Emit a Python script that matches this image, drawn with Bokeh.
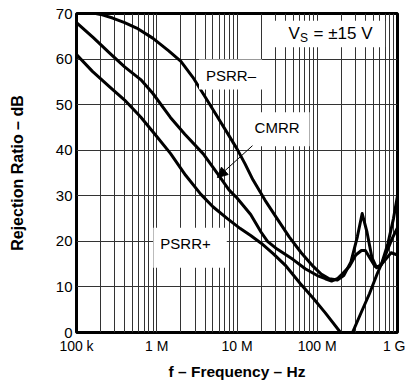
from bokeh.plotting import figure
from bokeh.models import FixedTicker, Label, Arrow, NormalHead, Range1d
from bokeh.embed import file_html
from bokeh.resources import INLINE

# ---------------- data ----------------
psrr_minus_f = [1.0e5, 1.41e5, 2.0e5, 2.82e5, 3.98e5, 5.62e5, 8.91e5, 1.41e6, 2.0e6, 2.82e6,
                3.98e6, 5.62e6, 7.94e6, 1.0e7, 1.26e7, 1.58e7, 2.24e7, 3.16e7, 4.47e7, 6.31e7,
                8.91e7, 1.12e8, 1.41e8, 1.78e8, 2.14e8, 2.63e8, 3.16e8, 3.63e8, 4.17e8, 4.79e8,
                5.5e8, 6.31e8, 7.59e8, 8.91e8, 1.0e9]
psrr_minus_db = [71.0, 70.3, 69.8, 69.0, 68.0, 66.8, 64.6, 61.8, 59.5, 56.0,
                 51.8, 47.5, 43.2, 40.3, 37.0, 33.5, 29.0, 25.0, 21.0, 17.5,
                 14.5, 12.8, 11.8, 11.5, 12.5, 15.5, 21.0, 26.1, 22.0, 16.5,
                 14.2, 15.0, 19.5, 25.0, 30.0]

cmrr_f = [1.0e5, 1.62e5, 2.63e5, 3.98e5, 6.31e5, 8.91e5, 1.48e6, 2.24e6, 3.8e6, 5.75e6,
          7.94e6, 1.0e7, 1.48e7, 2.0e7, 2.4e7, 3.16e7, 5.01e7, 7.08e7, 1.0e8, 1.26e8,
          1.51e8, 1.78e8, 2.09e8, 2.51e8, 3.02e8, 3.55e8, 3.98e8, 4.47e8, 5.25e8, 6.03e8,
          7.08e8, 8.32e8, 1.0e9]
cmrr_db = [68.0, 64.7, 61.2, 58.3, 55.5, 52.5, 47.2, 43.5, 39.2, 34.8,
           31.3, 29.5, 25.9, 22.0, 20.0, 18.3, 16.0, 14.0, 12.5, 11.8,
           11.3, 11.8, 13.0, 14.5, 17.0, 18.0, 18.0, 16.5, 14.5, 14.5,
           16.0, 17.5, 17.0]

psrr_plus_f = [1.0e5, 1.58e5, 2.63e5, 3.98e5, 6.31e5, 1.0e6, 1.48e6, 2.29e6, 3.55e6, 5.01e6,
               7.59e6, 1.1e7, 1.48e7, 2.0e7, 2.82e7, 3.98e7, 6.17e7, 8.91e7, 1.26e8, 1.95e8,
               2.34e8, 2.75e8, 3.55e8, 4.47e8, 5.62e8, 7.08e8, 8.51e8, 1.0e9]
psrr_plus_db = [61.0, 57.3, 53.8, 51.0, 47.3, 43.0, 39.3, 34.5, 30.3, 27.6,
                25.0, 22.8, 21.3, 19.6, 17.3, 14.8, 10.7, 7.5, 4.3, 0.0,
                -3.0, 0.0, 4.5, 8.5, 13.0, 17.0, 20.5, 23.0]

x_ticks = [k * 10 ** e for e in range(5, 9) for k in range(1, 10)] + [10 ** 9]
x_tick_labels = {100000: "100 k", 1000000: "1 M", 10000000: "10 M",
                 100000000: "100 M", 1000000000: "1 G"}
y_ticks = [0, 10, 20, 30, 40, 50, 60, 70]

FONT = "Liberation Sans"

p = figure(width=405, height=383, x_axis_type="log",
           x_range=Range1d(1e5, 1e9), y_range=Range1d(0, 70),
           output_backend="svg", toolbar_location=None,
           min_border_left=76, min_border_right=8, min_border_top=13, min_border_bottom=51)

p.outline_line_color = "black"
p.outline_line_width = 3

# grid
p.xaxis.ticker = FixedTicker(ticks=x_ticks)
p.yaxis.ticker = FixedTicker(ticks=y_ticks)
p.xaxis.major_label_overrides = {t: x_tick_labels.get(t, "") for t in x_ticks}
for g in (p.xgrid, p.ygrid):
    g.grid_line_color = "#333333"
    g.grid_line_width = 1
    g.grid_line_alpha = 1.0

for ax in (p.xaxis, p.yaxis):
    ax.axis_line_color = None
    ax.major_tick_line_color = None
    ax.minor_tick_line_color = None
    ax.major_tick_out = 0
    ax.major_tick_in = 0
    ax.minor_tick_out = 0
    ax.major_label_text_font = FONT
    ax.major_label_text_color = "black"
    ax.axis_label_text_font = FONT
    ax.axis_label_text_font_style = "bold"
    ax.axis_label_text_color = "black"

p.xaxis.major_label_text_font_size = "14px"
p.yaxis.major_label_text_font_size = "15px"
p.xaxis.axis_label = "f – Frequency – Hz"
p.yaxis.axis_label = "Rejection Ratio – dB"
p.xaxis.axis_label_text_font_size = "15.5px"
p.yaxis.axis_label_text_font_size = "16px"
p.xaxis.major_label_standoff = 5
p.yaxis.major_label_standoff = 4
p.xaxis.axis_label_standoff = 6
p.yaxis.axis_label_standoff = 27

# white box behind the supply-voltage note (drawn above the grid, below the text)
p.quad(left=[2.05e7], right=[7.0e8], top=[68.4], bottom=[62.6],
       fill_color="white", fill_alpha=1.0, line_color=None)

# curves
for f, db in ((psrr_minus_f, psrr_minus_db), (cmrr_f, cmrr_db), (psrr_plus_f, psrr_plus_db)):
    p.line(f, db, line_color="black", line_width=3, line_join="round", line_cap="round")

vs_x, vs_y = 4.39e7, 65.6
p.add_layout(Label(x=vs_x, y=vs_y, text="V", text_align="left", text_baseline="middle",
                   text_font=FONT, text_font_size="17px", text_color="black"))
p.add_layout(Label(x=vs_x, y=vs_y, x_offset=11.5, y_offset=-4, text="S", text_align="left",
                   text_baseline="middle", text_font=FONT, text_font_size="12px",
                   text_color="black"))
p.add_layout(Label(x=vs_x, y=vs_y, x_offset=25, text="= ±15 V", text_align="left",
                   text_baseline="middle", text_font=FONT, text_font_size="17px",
                   text_color="black"))

# curve labels
def curve_label(text, x, y, pad_v, pad_h):
    p.add_layout(Label(x=x, y=y, text=text, text_align="center", text_baseline="middle",
                       text_font=FONT, text_font_size="15px", text_color="black",
                       background_fill_color="white", background_fill_alpha=1.0,
                       padding=(pad_v, pad_h, pad_v, pad_h)))

curve_label("PSRR–", 8.3e6, 56.6, 7, 6)
curve_label("CMRR", 3.3e7, 44.6, 7, 10)
curve_label("PSRR+", 2.6e6, 18.6, 7, 16)

p.add_layout(Arrow(end=NormalHead(size=10, fill_color="black", line_color="black"),
                   x_start=1.56e7, y_start=41.0, x_end=5.7e6, y_end=34.0,
                   line_color="black", line_width=1))

open("out.html", "w").write(file_html(p, INLINE))
